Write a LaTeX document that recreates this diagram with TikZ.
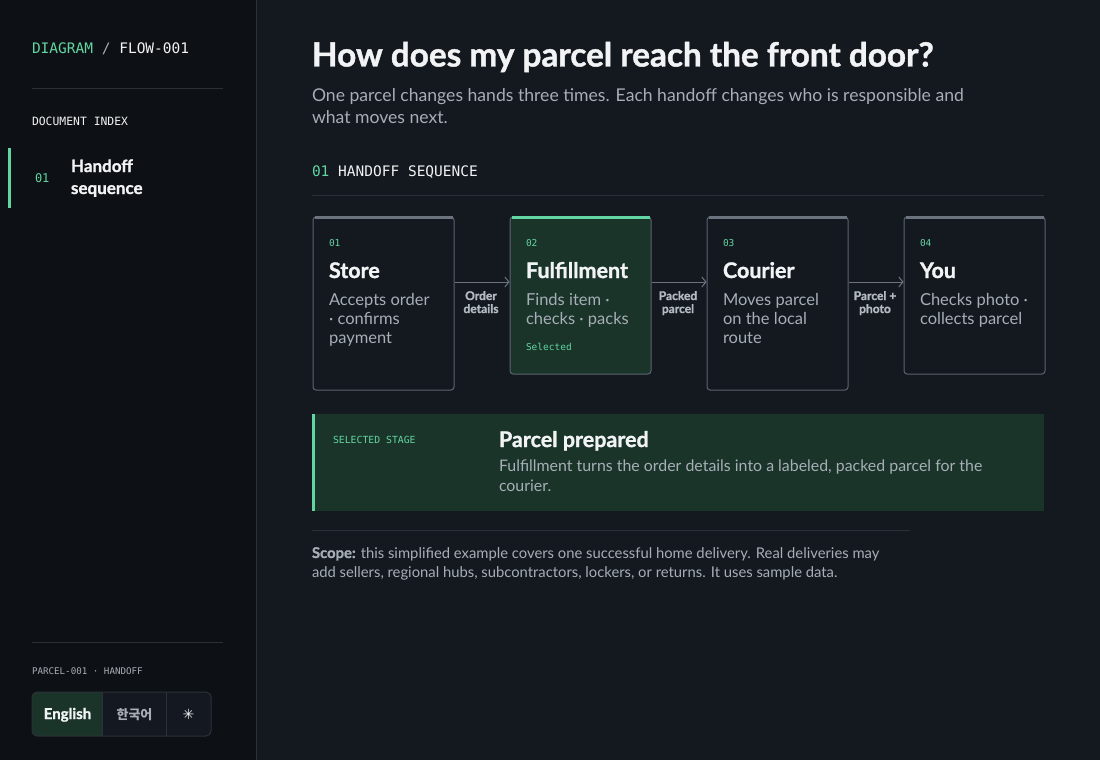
\documentclass[tikz,border=0pt]{standalone}
\usepackage{fontspec}
\setmainfont{Lato}[BoldFeatures={FakeBold=1.3}]
\setmonofont{DejaVu Sans Mono}
\newfontfamily\krfont{Noto Sans CJK KR}
\newfontfamily\symfont{DejaVu Sans}
\usetikzlibrary{arrows.meta}
\definecolor{sidebg}{HTML}{0D1014}
\definecolor{mainbg}{HTML}{14181F}
\definecolor{rule}{HTML}{2A3038}
\definecolor{accent}{HTML}{62D6A2}
\definecolor{selfill}{HTML}{1A3429}
\definecolor{boxline}{HTML}{5C646E}
\definecolor{boxtop}{HTML}{6A737E}
\definecolor{txtw}{HTML}{F1F3F4}
\definecolor{txtg}{HTML}{A7AEB6}
\definecolor{txtl}{HTML}{B3BAC1}
\definecolor{btnbg}{HTML}{141820}
\definecolor{btnline}{HTML}{2C323A}
\newcommand{\fsz}[1]{\fontsize{#1}{#1}\selectfont}
\begin{document}
\begin{tikzpicture}[x=1pt,y=-1pt,
  t/.style={anchor=base west,inner sep=0pt,outer sep=0pt},
  tc/.style={anchor=base,inner sep=0pt,outer sep=0pt},
  stagebox/.style={draw=boxline,line width=1pt,fill=mainbg,rounded corners=3pt,minimum width=141pt,inner sep=0pt},
  selbox/.style={stagebox,fill=selfill},
  arr/.style={draw=boxtop,line width=1pt,-{Straight Barb[length=4pt,width=10pt]}},
  num/.style={t,text=accent,font=\ttfamily\fsz{9.5}},
  stitle/.style={t,text=txtw,font=\bfseries\fsz{21.5}},
  sdesc/.style={t,text=txtg,font=\fsz{16.5}},
  alab/.style={tc,text=txtl,font=\bfseries\fsz{12}}]
\useasboundingbox (0,0) rectangle (1100,760);
\fill[mainbg] (0,0) rectangle (1100,760);
\fill[sidebg] (0,0) rectangle (256,760);
\draw[rule,line width=1pt] (256,0) -- (256,760);
% sidebar
\node[t,font=\ttfamily\fsz{14.5}] (brand) at (32,53) {\textcolor{accent}{DIAGRAM}\ \textcolor{txtg}{/}\ \textcolor{txtw}{FLOW-001}};
\draw[rule,line width=1pt] (32,88.5) -- (223,88.5);
\node[t,text=txtw,font=\ttfamily\fsz{11.4}] (docidx) at (32,125) {DOCUMENT INDEX};
\fill[accent] (8,148) rectangle (11,208);
\node[t,text=accent,font=\ttfamily\fsz{12}] (idxnum) at (35,182) {01};
\node[t,text=txtw,font=\bfseries\fsz{17}] (idx1) at (71,172) {Handoff};
\node[t,text=txtw,font=\bfseries\fsz{17}] (idx2) at (71,194) {sequence};
\draw[rule,line width=1pt] (32,642.5) -- (223,642.5);
\node[t,text=txtg,font=\ttfamily\fsz{9.2}] (pid) at (32,674) {PARCEL-001 · HANDOFF};
% buttons
\fill[btnbg,rounded corners=5pt] (32,692) rectangle (211,736);
\begin{scope}
\clip[rounded corners=5pt] (32,692) rectangle (211,736);
\fill[selfill] (32,692) rectangle (102.5,736);
\end{scope}
\draw[btnline,line width=1pt] (102.5,692) -- (102.5,736) (166.5,692) -- (166.5,736);
\draw[btnline,line width=1pt,rounded corners=5pt] (32,692) rectangle (211,736);
\node[tc,text=txtw,font=\bfseries\fsz{15}] (en) at (67.5,719) {English};
\node[tc,text=txtg,font=\krfont\bfseries\fsz{13}] (ko) at (134.5,719) {한국어};
\node[tc,text=txtw,font=\symfont\bfseries\fsz{14}] (theme) at (188.5,719) {✳};
% header
\node[t,text=txtw,font=\bfseries\fsz{33.3}] (title) at (312,66.5) {How does my parcel reach the front door?};
\node[t,text=txtg,font=\fsz{17.6}] (sub1) at (312,101) {One parcel changes hands three times. Each handoff changes who is responsible and};
\node[t,text=txtg,font=\fsz{17.6}] (sub2) at (312,123) {what moves next.};
\node[t,font=\ttfamily\fsz{14.5}] (sec) at (312,176) {\textcolor{accent}{01}\ \textcolor{txtw}{HANDOFF SEQUENCE}};
\draw[rule,line width=1pt] (312,195.5) -- (1044,195.5);
% stage boxes
\node[stagebox,anchor=north west,minimum height=173pt] (s1) at (312.5,216.5) {};
\node[selbox,anchor=north west,minimum height=157pt] (s2) at (509.5,216.5) {};
\node[stagebox,anchor=north west,minimum height=173pt] (s3) at (706.5,216.5) {};
\node[stagebox,anchor=north west,minimum height=157pt] (s4) at (903.5,216.5) {};
\draw[boxtop,line width=3pt] ([xshift=2pt,yshift=-1pt]s1.north west) -- ([xshift=-2pt,yshift=-1pt]s1.north east);
\draw[accent,line width=3pt] ([xshift=2pt,yshift=-1pt]s2.north west) -- ([xshift=-2pt,yshift=-1pt]s2.north east);
\draw[boxtop,line width=3pt] ([xshift=2pt,yshift=-1pt]s3.north west) -- ([xshift=-2pt,yshift=-1pt]s3.north east);
\draw[boxtop,line width=3pt] ([xshift=2pt,yshift=-1pt]s4.north west) -- ([xshift=-2pt,yshift=-1pt]s4.north east);
% box contents
\node[num] (n1) at (329,246) {01};
\node[stitle] (h1) at (329,278) {Store};
\node[sdesc] (d1a) at (329,305) {Accepts order};
\node[sdesc] (d1b) at (329,324) {· confirms};
\node[sdesc] (d1c) at (329,343) {payment};
\node[num] (n2) at (526,246) {02};
\node[stitle] (h2) at (526,278) {Fulfillment};
\node[sdesc] (d2a) at (526,305) {Finds item ·};
\node[sdesc] (d2b) at (526,324) {checks · packs};
\node[num] (sel) at (526,350) {Selected};
\node[num] (n3) at (723,246) {03};
\node[stitle] (h3) at (723,278) {Courier};
\node[sdesc] (d3a) at (723,305) {Moves parcel};
\node[sdesc] (d3b) at (723,324) {on the local};
\node[sdesc] (d3c) at (723,343) {route};
\node[num] (n4) at (920,246) {04};
\node[stitle] (h4) at (920,278) {You};
\node[sdesc] (d4a) at (920,305) {Checks photo ·};
\node[sdesc] (d4b) at (920,324) {collects parcel};
% connectors
\coordinate (ay) at (0,282);
\draw[arr] (s1.east |- ay) -- (s2.west |- ay);
\draw[arr] (s2.east |- ay) -- (s3.west |- ay);
\draw[arr] (s3.east |- ay) -- (s4.west |- ay);
\node[alab] (l1a) at (481,300) {Order};
\node[alab] (l1b) at (481,313) {details};
\node[alab] (l2a) at (678,300) {Packed};
\node[alab] (l2b) at (678,313) {parcel};
\node[alab] (l3a) at (875,300) {Parcel +};
\node[alab] (l3b) at (875,313) {photo};
% selected stage panel
\fill[selfill] (312,414) rectangle (1044,511);
\fill[accent] (312,414) rectangle (315,511);
\node[t,text=accent,font=\ttfamily\fsz{9.8}] (sstag) at (333,443) {SELECTED STAGE};
\node[t,text=txtw,font=\bfseries\fsz{21.5}] (stt) at (499,447) {Parcel prepared};
\node[t,text=txtg,font=\fsz{15.9}] (std1) at (499,471) {Fulfillment turns the order details into a labeled, packed parcel for the};
\node[t,text=txtg,font=\fsz{15.9}] (std2) at (499,491) {courier.};
% scope note
\draw[rule,line width=1pt] (312,530.5) -- (910,530.5);
\node[t,text=txtg,font=\fsz{14.8}] (sc1) at (312,558) {\textbf{Scope:} this simplified example covers one successful home delivery. Real deliveries may};
\node[t,text=txtg,font=\fsz{14.8}] (sc2) at (312,577) {add sellers, regional hubs, subcontractors, lockers, or returns. It uses sample data.};
\end{tikzpicture}
\end{document}
